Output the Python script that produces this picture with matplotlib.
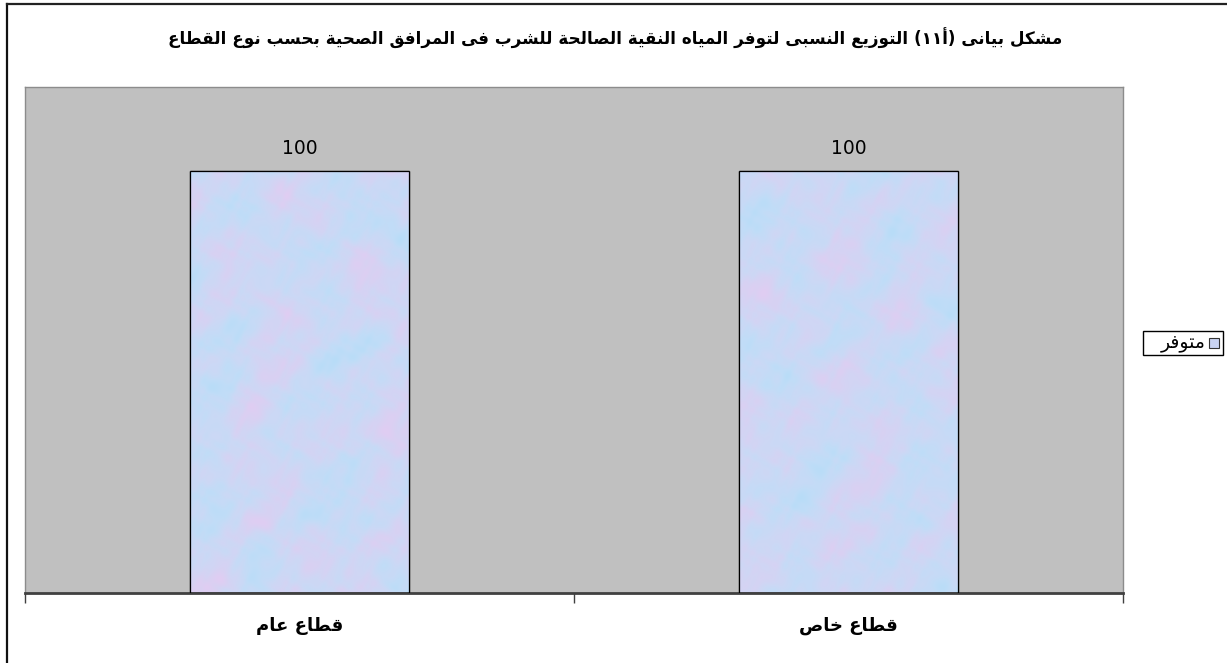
import re
import numpy as np
import matplotlib
matplotlib.use("Agg")
import matplotlib.pyplot as plt
from matplotlib.patches import Rectangle
from matplotlib.lines import Line2D
from matplotlib.colors import LinearSegmentedColormap

# ---------------- data ----------------
title_text = "مشكل بيانى (أ١١) التوزيع النسبى لتوفر المياه النقية الصالحة للشرب فى المرافق الصحية بحسب نوع القطاع"
categories = ["قطاع عام", "قطاع خاص"]
series_name = "متوفر"
values = [100, 100]
value_labels = ["100", "100"]

# ---------------- minimal Arabic shaping ----------------
DUAL = {'ب': 0xFE8F, 'ت': 0xFE95, 'ث': 0xFE99, 'ج': 0xFE9D, 'ح': 0xFEA1, 'خ': 0xFEA5,
        'س': 0xFEB1, 'ش': 0xFEB5, 'ص': 0xFEB9, 'ض': 0xFEBD, 'ط': 0xFEC1, 'ظ': 0xFEC5,
        'ع': 0xFEC9, 'غ': 0xFECD, 'ف': 0xFED1, 'ق': 0xFED5, 'ك': 0xFED9, 'ل': 0xFEDD,
        'م': 0xFEE1, 'ن': 0xFEE5, 'ه': 0xFEE9, 'ي': 0xFEF1, 'ئ': 0xFE89}
RIGHT = {'ا': 0xFE8D, 'أ': 0xFE83, 'إ': 0xFE87, 'آ': 0xFE81, 'د': 0xFEA9, 'ذ': 0xFEAB,
         'ر': 0xFEAD, 'ز': 0xFEAF, 'و': 0xFEED, 'ة': 0xFE93, 'ى': 0xFEEF, 'ؤ': 0xFE85}
LAMALEF = {'آ': 0xFEF5, 'أ': 0xFEF7, 'إ': 0xFEF9, 'ا': 0xFEFB}


def shape(text):
    chars = list(text)
    units = []
    i = 0
    while i < len(chars):
        c = chars[i]
        if c == 'ل' and i + 1 < len(chars) and chars[i + 1] in LAMALEF:
            units.append(('LA', chars[i + 1]))
            i += 2
        else:
            units.append(('C', c))
            i += 1

    def is_ar(u):
        return u[0] == 'LA' or u[1] in DUAL or u[1] in RIGHT

    def joins_next(u):
        return u[0] == 'C' and u[1] in DUAL

    out = []
    for k, u in enumerate(units):
        if not is_ar(u):
            out.append(u[1])
            continue
        prev_j = k > 0 and joins_next(units[k - 1])
        next_j = joins_next(u) and k + 1 < len(units) and is_ar(units[k + 1])
        if u[0] == 'LA':
            out.append(chr(LAMALEF[u[1]] + (1 if prev_j else 0)))
        elif u[1] in DUAL:
            if prev_j and next_j:
                off = 3
            elif prev_j:
                off = 1
            elif next_j:
                off = 2
            else:
                off = 0
            out.append(chr(DUAL[u[1]] + off))
        else:
            out.append(chr(RIGHT[u[1]] + (1 if prev_j else 0)))
    s = ''.join(out)[::-1]
    s = s.translate(str.maketrans('()', ')('))
    s = re.sub(r'[0-9\u0660-\u0669]+', lambda m: m.group(0)[::-1], s)
    return s


# ---------------- figure ----------------
W, H = 1227, 663
fig = plt.figure(figsize=(W / 100, H / 100), dpi=100)
fig.patch.set_facecolor('white')
plt.rcParams['font.family'] = ['DejaVu Sans']

ax = fig.add_axes([25 / W, 70 / H, (1123 - 25) / W, (593 - 87) / H])
ax.set_facecolor('#C0C0C0')

x = np.arange(len(categories))
bar_w = 0.4
bars = ax.bar(x, values, width=bar_w, color='#C8D8F4', edgecolor='black',
              linewidth=0.9, zorder=2)

# cloudy texture inside bars (styling only)
tex_cmap = LinearSegmentedColormap.from_list(
    'tex', ['#B8DDF7', '#C2DCF7', '#CCD8F5', '#D6D2F3', '#E0CDF2'])
yy, xx = np.mgrid[0:420, 0:220].astype(float)
for j, b in enumerate(bars):
    ph = 1.7 * j
    pat = (np.sin(0.050 * xx + 0.021 * yy + 2.2 * np.sin(0.017 * yy + ph)) +
           np.sin(-0.031 * xx + 0.047 * yy + 1.8 * np.cos(0.023 * xx - ph)) +
           0.8 * np.sin(0.083 * xx - 0.061 * yy + 1.5 * np.sin(0.04 * yy)) +
           0.6 * np.sin(0.017 * xx + 0.113 * yy + 1.2 * np.cos(0.05 * xx + ph)) +
           0.5 * np.sin(0.137 * xx + 0.071 * yy + 2.0 * np.sin(0.09 * yy)) +
           0.45 * np.sin(0.19 * xx - 0.17 * yy + 2.0 * np.cos(0.11 * xx)) +
           0.35 * np.sin(0.29 * xx + 0.23 * yy + 2.5 * np.sin(0.13 * yy + ph)) +
           0.3 * np.sin(-0.27 * xx + 0.31 * yy + 2.5 * np.cos(0.15 * xx)))
    pat = (pat - pat.min()) / (pat.max() - pat.min())
    im = ax.imshow(pat, cmap=tex_cmap, aspect='auto', origin='lower',
                   extent=(b.get_x(), b.get_x() + b.get_width(), 0, b.get_height()),
                   zorder=2.5, interpolation='bilinear')
    im.set_clip_path(b)
    edge = Rectangle((b.get_x(), 0), b.get_width(), b.get_height(), fill=False,
                     edgecolor='black', linewidth=0.9, zorder=3)
    ax.add_patch(edge)

for xi, v, lab in zip(x, values, value_labels):
    ax.annotate(lab, (xi, v), xytext=(0, 9.5), textcoords='offset points',
                ha='center', va='bottom', fontsize=13.5, color='black')

ax.set_xlim(-0.5, 1.5)
ax.set_ylim(0, 120)
ax.set_yticks([])
ax.set_xticks([-0.5, 0.5, 1.5])
ax.set_xticklabels([])
ax.tick_params(axis='x', which='major', length=7, width=1, color='#404040', direction='out')
ax.set_xticks(x, minor=True)
ax.set_xticklabels([shape(c) for c in categories], minor=True,
                   fontsize=13, fontweight='bold')
ax.tick_params(axis='x', which='minor', length=0, pad=17)

for s in ['left', 'right', 'top']:
    ax.spines[s].set_color('#8C8C8C')
    ax.spines[s].set_linewidth(1.0)
ax.spines['bottom'].set_color('#404040')
ax.spines['bottom'].set_linewidth(2.0)

# title
fig.text(615 / W, 1 - 38 / H, shape(title_text), ha='center', va='center',
         fontsize=12.1, fontweight='bold')

# legend (manual, RTL style: key on the right of text)
fig.add_artist(Rectangle((1143 / W, 1 - 355 / H), 80 / W, 24 / H,
                         transform=fig.transFigure, facecolor='white',
                         edgecolor='black', linewidth=1.0))
fig.add_artist(Rectangle((1209 / W, 1 - 348 / H), 10 / W, 10 / H,
                         transform=fig.transFigure, facecolor='#C9D3F2',
                         edgecolor='#333333', linewidth=0.8))
fig.text(1206 / W, 1 - 342 / H, shape(series_name), ha='right', va='center',
         fontsize=13.5)

# outer chart frame
fig.add_artist(Line2D([6.5 / W, 6.5 / W], [0, 1 - 3.5 / H], transform=fig.transFigure,
                      color='#111111', linewidth=1.6))
fig.add_artist(Line2D([6.5 / W, 1.0], [1 - 3.5 / H, 1 - 3.5 / H], transform=fig.transFigure,
                      color='#222222', linewidth=1.6))

fig.savefig('out.png', dpi=100, facecolor='white')
